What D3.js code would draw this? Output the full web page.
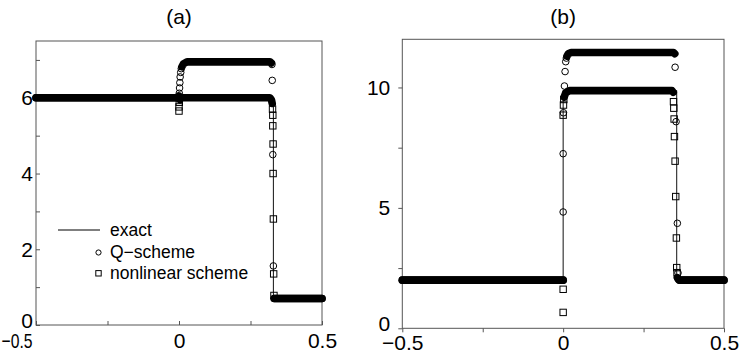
<!DOCTYPE html>
<html><head><meta charset="utf-8">
<script src="https://cdn.jsdelivr.net/npm/d3@7"></script>
<style>
body{margin:0;background:#fff;}
svg{display:block;font-family:"Liberation Sans",Arial,Helvetica,sans-serif;}
</style></head>
<body><svg id="c" width="740" height="361"></svg>
<script>
// ---------- data ----------
const xTicks = [-0.5, -0.25, 0, 0.25, 0.5];
const xTickLabels = ["\u22120.5", "", "0", "", "0.5"];
const yTicksA = [0, 1, 2, 3, 4, 5, 6, 7];
const yTickLabelsA = ["0", "", "2", "", "4", "", "6", ""];
const yTicksB = [0, 2.5, 5, 7.5, 10];
const yTickLabelsB = ["0", "", "5", "", "10"];

// panel (a)
const exactA = [[-0.5, 6], [0.33, 6], [0.33, 0.7], [0.5, 0.7]];
const qBandA = [
  [[-0.5, 6], [-0.003, 6], [0.0, 6.05]],
  [[0.01, 6.82], [0.016, 6.9], [0.028, 6.95], [0.318, 6.95], [0.323, 6.92]],
  [[0.333, 0.7], [0.5, 0.7]]
];
const qPtsA = [[0.001, 6.12], [0.002, 6.26], [0.003, 6.4], [0.004, 6.55], [0.006, 6.67], [0.008, 6.77],
  [0.325, 6.88], [0.326, 6.46], [0.328, 4.5], [0.33, 1.56]];
const nBandA = [
  [[-0.5, 6], [-0.004, 6]],
  [[0.003, 5.95], [0.008, 6.0], [0.318, 6.0], [0.323, 5.95], [0.326, 5.85]],
  [[0.333, 0.7], [0.5, 0.7]]
];
const nPtsA = [[0.0, 5.65], [0.0, 5.76], [0.001, 5.88],
  [0.327, 5.7], [0.328, 5.54], [0.328, 5.26], [0.329, 4.78], [0.329, 4.0], [0.33, 2.8], [0.331, 1.35], [0.332, 0.78]];

// panel (b)
const exactB = [[-0.5, 2], [0.0, 2], [0.0, 9.87], [0.353, 9.87], [0.353, 2], [0.5, 2]];
const qBandB = [
  [[-0.5, 2], [0.0, 2]],
  [[0.012, 11.3], [0.016, 11.4], [0.025, 11.45], [0.343, 11.45], [0.347, 11.4]],
  [[0.358, 2.05], [0.362, 2], [0.5, 2]]
];
const qPtsB = [[0.0, 4.83], [0.0, 7.25], [0.001, 8.95], [0.004, 10.06], [0.006, 10.66], [0.008, 11.07], [0.01, 11.22],
  [0.348, 10.84], [0.351, 8.58], [0.355, 4.36], [0.357, 2.3]];
const nBandB = [
  [[-0.5, 2], [0.0, 2]],
  [[0.003, 9.6], [0.008, 9.78], [0.02, 9.87], [0.338, 9.87], [0.342, 9.8]],
  [[0.355, 2.1], [0.36, 2], [0.5, 2]]
];
const nPtsB = [[0.0, 1.62], [0.0, 0.66], [0.0, 8.85], [0.001, 9.27], [0.002, 9.5],
  [0.343, 9.41], [0.344, 9.14], [0.345, 8.69], [0.346, 7.96], [0.348, 6.94], [0.35, 5.47], [0.352, 3.75], [0.353, 2.52], [0.354, 2.31]];

const legendLabels = ["exact", "Q\u2212scheme", "nonlinear scheme"];

// ---------- drawing ----------
const svg = d3.select("#c");
const FONT = 21;

function panel(cfg) {
  const x = d3.scaleLinear().domain([-0.5, 0.5]).range([cfg.left, cfg.right]);
  const y = d3.scaleLinear().domain(cfg.yDomain).range([cfg.bottom, cfg.top]);
  const g = svg.append("g");
  const line = d3.line().x(d => x(d[0])).y(d => y(d[1]));

  // frame
  g.append("rect").attr("x", cfg.left).attr("y", cfg.top)
    .attr("width", cfg.right - cfg.left).attr("height", cfg.bottom - cfg.top)
    .attr("fill", "none").attr("stroke", "#555").attr("stroke-width", 1);

  // axes
  const xa = d3.axisBottom(x).tickValues(xTicks)
    .tickFormat((d, i) => xTickLabels[i]).tickSize(cfg.tick).tickPadding(cfg.xPad);
  const gx = g.append("g").attr("transform", `translate(0,${cfg.bottom})`).call(xa);
  const ya = d3.axisLeft(y).tickValues(cfg.yTicks)
    .tickFormat((d, i) => cfg.yLabels[i]).tickSize(cfg.tick).tickPadding(cfg.yPad);
  const gy = g.append("g").attr("transform", `translate(${cfg.left},0)`).call(ya);
  [gx, gy].forEach(a => {
    a.select(".domain").remove();
    a.selectAll("line").attr("stroke", "#555");
    a.selectAll("text").attr("font-size", FONT).attr("fill", "#000")
      .attr("font-family", '"Liberation Sans",Arial,sans-serif');
  });
  // lift the bottom y label a little so it clears the corner x label
  gy.selectAll("text").filter((d, i) => i === 0).attr("dy", "0.12em");
  if (cfg.shiftFirstX) {
    gx.selectAll("text").filter((d, i) => i === 0)
      .attr("text-anchor", "start").attr("x", -cfg.left + 1)
      .attr("textLength", 31).attr("lengthAdjust", "spacingAndGlyphs");
  }

  // title
  g.append("text").attr("x", x(0)).attr("y", 24).attr("text-anchor", "middle")
    .attr("font-size", 21).text(cfg.title);

  // exact line
  g.append("path").attr("d", line(cfg.exact)).attr("fill", "none")
    .attr("stroke", "#111").attr("stroke-width", 1);

  // dense-marker bands
  [...cfg.qBand, ...cfg.nBand].forEach(seg => {
    g.append("path").attr("d", line(seg)).attr("fill", "none").attr("stroke", "#000")
      .attr("stroke-width", 7.6).attr("stroke-linecap", "round").attr("stroke-linejoin", "round");
  });

  // isolated markers
  g.selectAll(null).data(cfg.qPts).join("circle")
    .attr("cx", d => x(d[0])).attr("cy", d => y(d[1])).attr("r", 3.3)
    .attr("fill", "none").attr("stroke", "#000").attr("stroke-width", 1);
  g.selectAll(null).data(cfg.nPts).join("rect")
    .attr("x", d => x(d[0]) - 3.2).attr("y", d => y(d[1]) - 3.2)
    .attr("width", 6.4).attr("height", 6.4)
    .attr("fill", "none").attr("stroke", "#000").attr("stroke-width", 1);
  return {x, y, g};
}

const A = panel({left: 36, right: 322, top: 41, bottom: 325, yDomain: [0, 7.5],
  yTicks: yTicksA, yLabels: yTickLabelsA, tick: -4, xPad: 8, yPad: 3, title: "(a)", shiftFirstX: true,
  exact: exactA, qBand: qBandA, nBand: nBandA, qPts: qPtsA, nPts: nPtsA});
const B = panel({left: 402.3, right: 724, top: 39.3, bottom: 328.3, yDomain: [0, 12],
  yTicks: yTicksB, yLabels: yTickLabelsB, tick: 4, xPad: 3, yPad: 8, title: "(b)", shiftFirstX: false,
  exact: exactB, qBand: qBandB, nBand: nBandB, qPts: qPtsB, nPts: nPtsB});

// legend (panel a)
const lg = svg.append("g").attr("font-size", 17.5);
lg.append("line").attr("x1", 58).attr("x2", 100).attr("y1", 230).attr("y2", 230)
  .attr("stroke", "#000").attr("stroke-width", 1.2);
lg.append("circle").attr("cx", 98.5).attr("cy", 252.5).attr("r", 2.6)
  .attr("fill", "none").attr("stroke", "#000").attr("stroke-width", 1);
lg.append("rect").attr("x", 95.8).attr("y", 270.6).attr("width", 5.4).attr("height", 5.4)
  .attr("fill", "none").attr("stroke", "#000").attr("stroke-width", 1);
lg.selectAll("text").data(legendLabels).join("text")
  .attr("x", 110).attr("y", (d, i) => 236 + i * 21.5).text(d => d);
</script>
</body></html>
